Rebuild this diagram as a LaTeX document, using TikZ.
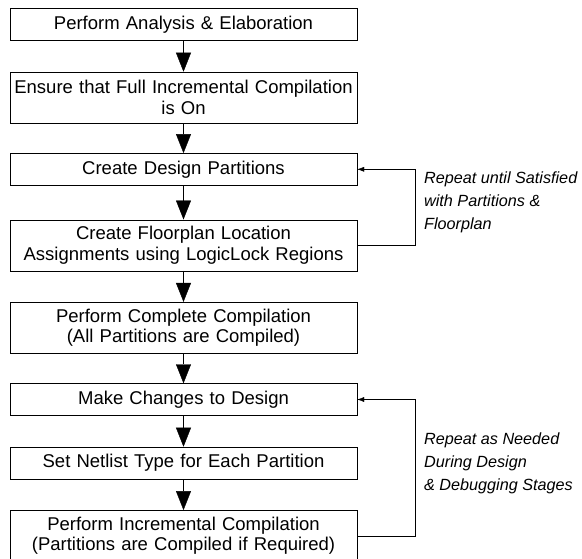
\documentclass[tikz,border=0pt]{standalone}
\usepackage{fontspec}
\setmainfont{Liberation Sans}
\usetikzlibrary{arrows.meta, positioning}
\tikzset{line width=0.9pt,
    node distance=31pt,
    process/.style={rectangle,draw,text width=340pt,inner xsep=3.5pt,align=center,
        minimum height=32pt,font=\fontsize{18.5}{20.5}\selectfont},
    process2/.style={process,minimum height=51pt},
    flow/.style={-{Triangle[width=15pt,length=19pt]}},
    feedback/.style={-{Latex[width=5pt,length=7pt]}},
    note/.style={align=left,anchor=north west,inner sep=0pt,
        font=\fontsize{16.2}{23}\selectfont\itshape}}

\begin{document}
\begin{tikzpicture}
\useasboundingbox (0,0) rectangle (582pt,-558pt);
\node[process]  (analysis)  at (183.5pt,-24.5pt)       {Perform Analysis \& Elaboration};
\node[process2] (fullinc)   [below=of analysis]        {Ensure that Full Incremental Compilation\\is On};
\node[process]  (partition) [below=30pt of fullinc]    {Create Design Partitions};
\node[process2] (floorplan) [below=34pt of partition]  {Create Floorplan Location\\Assignments using LogicLock Regions};
\node[process2] (complete)  [below=of floorplan]       {Perform Complete Compilation\\(All Partitions are Compiled)};
\node[process]  (changes)   [below=30pt of complete]   {Make Changes to Design};
\node[process]  (netlist)   [below=of changes]         {Set Netlist Type for Each Partition};
\node[process2] (incr)      [below=of netlist]         {Perform Incremental Compilation\\(Partitions are Compiled if Required)};

\node[note] (repeat1) at (424pt,-172pt) {Repeat until Satisfied\\with Partitions \&\\Floorplan};
\node[note] (repeat2) at (424pt,-433pt) {Repeat as Needed\\During Design\\\& Debugging Stages};

\path[flow]
    (analysis)  edge (fullinc)
    (fullinc)   edge (partition)
    (partition) edge (floorplan)
    (floorplan) edge (complete)
    (complete)  edge (changes)
    (changes)   edge (netlist)
    (netlist)   edge (incr);

\draw[feedback] (floorplan.east) -- ++(58pt,0) |- (partition.east);
\draw[feedback] (incr.east) -- ++(58pt,0) |- (changes.east);
\end{tikzpicture}
\end{document}
